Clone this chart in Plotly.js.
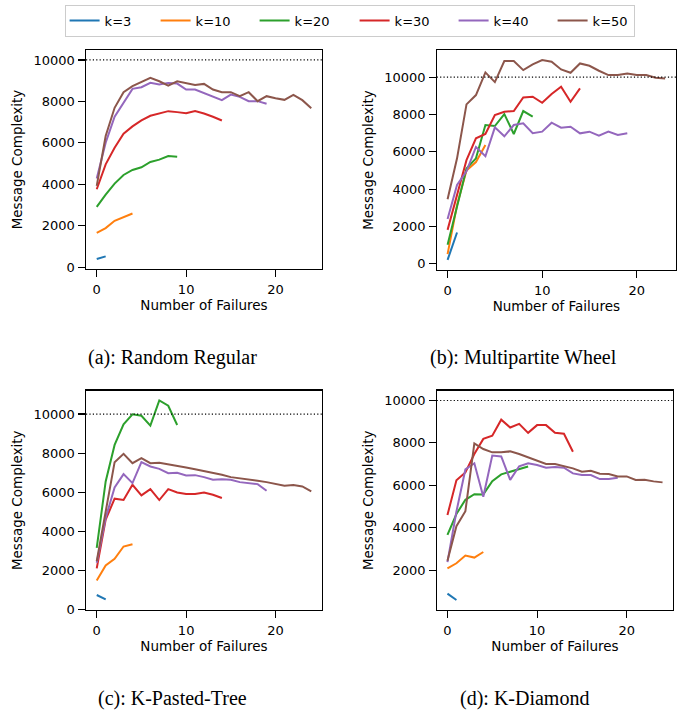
<!DOCTYPE html>
<html><head><meta charset="utf-8">
<script src="https://cdn.plot.ly/plotly-3.0.1.min.js"></script>
<style>html,body{margin:0;padding:0;background:#fff;}#chart{width:695px;height:711px;}</style>
</head><body><div id="chart"></div>
<script>
// ---------- data ----------
const seriesNames = ['k=3', 'k=10', 'k=20', 'k=30', 'k=40', 'k=50'];
const panelTitles = ['(a): Random Regular', '(b): Multipartite Wheel', '(c): K-Pasted-Tree', '(d): K-Diamond'];
const xTickVals = [0, 10, 20];
const yTickVals = [0, 2000, 4000, 6000, 8000, 10000];
const yTickText = ['0', '2000', '4000', '6000', '8000', '10000'];
const limitValue = 10000;

// (a) Random Regular
const rrK3  = [400, 530];
const rrK10 = [1667, 1890, 2244, 2436, 2596];
const rrK20 = [2917, 3510, 4038, 4455, 4696, 4824, 5080, 5192, 5369, 5337];
const rrK30 = [3766, 4968, 5769, 6442, 6795, 7083, 7308, 7420, 7532, 7484, 7436, 7532, 7420, 7260, 7083];
const rrK40 = [4279, 6010, 7260, 7933, 8606, 8686, 8894, 8814, 8894, 8862, 8574, 8574, 8413, 8253, 8061, 8333, 8221, 8013, 8013, 7885];
const rrK50 = [3926, 6330, 7692, 8446, 8734, 8926, 9135, 8974, 8766, 8974, 8894, 8798, 8846, 8574, 8446, 8446, 8253, 8446, 8013, 8253, 8157, 8077, 8317, 8061, 7676];

// (b) Multipartite Wheel
const mwK3  = [214, 1676];
const mwK10 = [517, 3150, 5000, 5450, 6364];
const mwK20 = [1016, 3100, 5100, 5650, 7433, 7380, 8021, 6952, 8182, 7879];
const mwK30 = [1818, 3650, 5550, 6720, 6952, 7968, 8146, 8182, 8913, 8948, 8627, 9091, 9483, 8681, 9394];
const mwK40 = [2400, 4225, 4950, 6260, 5760, 7308, 6830, 7433, 7522, 6990, 7077, 7558, 7291, 7344, 6988, 7077, 6863, 7077, 6898, 6988];
const mwK50 = [3458, 5650, 8538, 9037, 10250, 9730, 10856, 10865, 10374, 10677, 10909, 10820, 10410, 10232, 10731, 10606, 10339, 10107, 10107, 10196, 10107, 10107, 9964, 9929];

// (c) K-Pasted-Tree
const ptK3  = [747, 526];
const ptK10 = [1494, 2258, 2598, 3226, 3345];
const ptK20 = [3158, 6553, 8421, 9474, 9983, 9915, 9406, 10696, 10424, 9440];
const ptK30 = [2105, 4601, 5671, 5603, 6384, 5840, 6163, 5603, 6163, 5993, 5908, 5908, 5993, 5874, 5705];
const ptK40 = [2394, 4686, 6248, 6927, 6469, 7538, 7317, 7199, 6978, 6995, 6859, 6876, 6774, 6638, 6672, 6638, 6519, 6469, 6418, 6078];
const ptK50 = [2479, 5025, 7538, 7963, 7487, 7742, 7487, 7504, 7436, 7368, 7267, 7182, 7097, 6995, 6893, 6774, 6723, 6638, 6588, 6519, 6418, 6333, 6367, 6299, 6044];

// (d) K-Diamond
const kdK3  = [900, 600];
const kdK10 = [2094, 2330, 2693, 2598, 2860];
const kdK20 = [3666, 4650, 5320, 5585, 5575, 6200, 6520, 6640, 6750, 6890];
const kdK30 = [4604, 6240, 6610, 7480, 8190, 8340, 9096, 8727, 8900, 8475, 8839, 8839, 8478, 8431, 7584];
const kdK40 = [2385, 4766, 6750, 7040, 5465, 7405, 7360, 6260, 6900, 7045, 6957, 6831, 6863, 6831, 6565, 6486, 6486, 6298, 6298, 6361];
const kdK50 = [2448, 4075, 4782, 7980, 7713, 7556, 7556, 7603, 7477, 7320, 7176, 7004, 7004, 6910, 6800, 6643, 6690, 6549, 6533, 6423, 6423, 6251, 6266, 6188, 6141];

const panelSeries = [
  [rrK3, rrK10, rrK20, rrK30, rrK40, rrK50],
  [mwK3, mwK10, mwK20, mwK30, mwK40, mwK50],
  [ptK3, ptK10, ptK20, ptK30, ptK40, ptK50],
  [kdK3, kdK10, kdK20, kdK30, kdK40, kdK50]
];

// ---------- styling / layout ----------
const colors = ['#1f77b4', '#ff7f0e', '#2ca02c', '#d62728', '#9467bd', '#8c564b'];
const legendWidths = [46, 54, 55, 54, 54, 36];
const W = 695, H = 711;
const sansFont = 'DejaVu Sans, Noto Sans, sans-serif';
const serifFont = 'Liberation Serif, DejaVu Serif, serif';

// pixel boxes [left, right, top, bottom]
const boxes = [
  [86, 322, 50, 269],
  [436.7, 676, 50, 270],
  [86, 322, 390.5, 610],
  [436.7, 673.3, 390.5, 610]
];
const xRanges = [[-1.2, 25.2], [-1.15, 24.15], [-1.2, 25.2], [-1.2, 25.2]];
const yRanges = [[-80, 10480], [-330, 11450], [-20, 11204], [128, 10470]];
const captionPos = [[172, 357], [523.5, 357], [172.6, 698], [524.5, 698]];

const traces = [];
panelSeries.forEach((series, p) => {
  const sfx = p === 0 ? '' : String(p + 1);
  series.forEach((vals, s) => {
    traces.push({
      type: 'scatter', mode: 'lines',
      x: vals.map((v, i) => i), y: vals,
      name: seriesNames[s], legendgroup: seriesNames[s],
      showlegend: p === 0,
      legendwidth: legendWidths[s],
      line: {color: colors[s], width: 2},
      xaxis: 'x' + sfx, yaxis: 'y' + sfx,
      hoverinfo: 'x+y+name'
    });
  });
});

const layout = {
  width: W, height: H,
  margin: {l: 0, r: 0, t: 0, b: 0},
  paper_bgcolor: '#fff', plot_bgcolor: '#fff',
  font: {family: sansFont, size: 13, color: '#000'},
  showlegend: true,
  legend: {
    orientation: 'h', x: 64.6 / W, y: 1 - 4.5 / H, xanchor: 'left', yanchor: 'top',
    bordercolor: '#cccccc', borderwidth: 1, bgcolor: '#fff',
    font: {family: sansFont, size: 13, color: '#000'}
  },
  shapes: [], annotations: []
};

boxes.forEach((b, p) => {
  const sfx = p === 0 ? '' : String(p + 1);
  const common = {
    showgrid: false, zeroline: false, showline: true, mirror: true,
    linecolor: '#000', linewidth: 1.1, ticks: 'outside', ticklen: 6.5, tickwidth: 1.1,
    tickcolor: '#000', tickfont: {family: sansFont, size: 13, color: '#000'},
    automargin: false, fixedrange: true
  };
  layout['xaxis' + sfx] = Object.assign({}, common, {
    domain: [b[0] / W, b[1] / W], range: xRanges[p], anchor: 'y' + sfx,
    tickmode: 'array', tickvals: xTickVals, ticktext: xTickVals.map(String),
    ticklabelstandoff: 2,
    title: {text: 'Number of Failures', font: {family: sansFont, size: 13.5, color: '#000'}, standoff: 3}
  });
  layout['yaxis' + sfx] = Object.assign({}, common, {
    domain: [1 - b[3] / H, 1 - b[2] / H], range: yRanges[p], anchor: 'x' + sfx,
    tickmode: 'array', tickvals: yTickVals, ticktext: yTickText,
    ticklabelstandoff: 1,
    title: {text: 'Message Complexity', font: {family: sansFont, size: 13.5, color: '#000'}, standoff: 7}
  });
  layout.shapes.push({
    type: 'line', xref: 'x' + sfx + ' domain', x0: 0, x1: 1,
    yref: 'y' + sfx, y0: limitValue, y1: limitValue,
    line: {color: '#000', width: 1.2, dash: '1.2px,2.2px'}
  });
  layout.annotations.push({
    text: panelTitles[p], xref: 'paper', yref: 'paper',
    x: captionPos[p][0] / W, y: 1 - captionPos[p][1] / H,
    xanchor: 'center', yanchor: 'middle', showarrow: false,
    font: {family: serifFont, size: 20, color: '#000'}
  });
});

Plotly.newPlot('chart', traces, layout, {displayModeBar: false, staticPlot: true});
</script>
</body></html>
